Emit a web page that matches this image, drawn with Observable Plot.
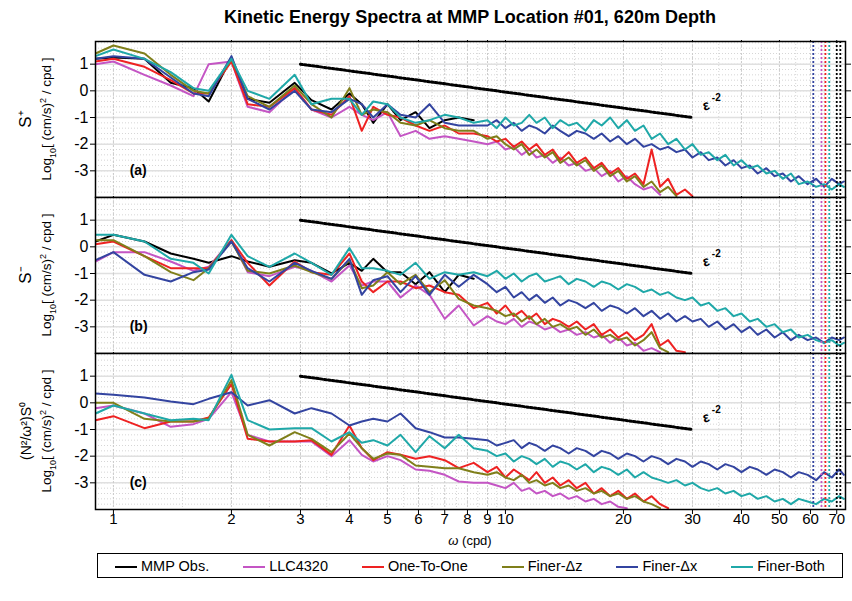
<!DOCTYPE html>
<html><head><meta charset="utf-8">
<script src="https://cdn.jsdelivr.net/npm/d3@7"></script>
<script src="https://cdn.jsdelivr.net/npm/@observablehq/plot@0.6"></script>
<style>
body{margin:0;background:#fff;font-family:Arial,"Liberation Sans",sans-serif}
#wrap{position:relative;width:852px;height:601px}
#title{position:absolute;top:7px;left:95px;width:750px;text-align:center;font-weight:bold;font-size:18px}
.pan{position:absolute;left:0}
#legend{position:absolute;left:97px;top:553px;width:746px;height:25px;border:1px solid #000;display:flex;align-items:center;justify-content:space-around;font-size:14.5px;box-sizing:border-box}
#legend span.k{display:inline-block;width:22px;height:0;border-top:2px solid;vertical-align:middle;margin-right:4px}
</style></head><body>
<div id="wrap"><div id="title">Kinetic Energy Spectra at MMP Location #01, 620m Depth</div><div id="legend"></div></div>
<script>
const series = ["MMP Obs.","LLC4320","One-To-One","Finer-Δz","Finer-Δx","Finer-Both"];
const colors = ["#000000","#c455c4","#ee2222","#7f7f1a","#3344a0","#1fa8a8"];
const wLow = [0.9,1,1.2,1.4,1.6,1.75,2,2.2,2.5,2.9,3.2,3.6,4,4.3,4.6,5,5.4,5.9,6.4,7,7.6,8.3];
const wHigh = [9,9.5,10,10.5,11,11.5,12,12.6,13.2,13.8,14.5,15.2,16,16.8,17.6,18.5,19.4,20.4,21.4,22.5,23.6,24.8,26,27.3,28.7,30,31.5,33,34.7,36.4,38.2,40,42,44,46.3,48.6,51,53.5,56,59,62,65,68,71,73];
// panel a
const aBlackLow=[1.2,1.25,1.2,0.3,0.1,-0.4,1.25,-0.3,-0.45,0.3,-0.35,-0.7,-0.1,-0.5,-1.2,-0.5,-1.1,-0.8,-1.4,-1.1,-1.0,-1.1];
const aMagLow=[1.0,1.1,0.6,0.2,-0.2,1.0,1.1,-0.6,-0.8,0.1,-0.7,-1.0,-0.6,-0.9,-1.1,-0.8,-1.7,-1.5,-1.8,-1.7,-1.8,-1.9];
const aRedLow=[1.1,1.2,0.9,0.4,-0.1,-0.1,1.1,-0.5,-0.6,0.1,-0.7,-0.9,-0.2,-1.5,-0.6,-0.9,-1.0,-1.3,-1.5,-1.3,-1.6,-1.6];
const aOliveLow=[1.4,1.7,1.4,0.6,0.0,-0.1,1.2,-0.2,-0.6,0.2,-0.5,-1.0,0.1,-0.9,-0.7,-0.8,-1.2,-1.3,-1.1,-1.4,-1.5,-1.5];
const aBlueLow=[1.2,1.3,1.2,0.5,-0.1,-0.2,1.3,-0.3,-0.7,0.0,-0.7,-0.8,-0.3,-0.5,-1.0,-0.5,-0.9,-1.0,-0.5,-1.2,-1.3,-1.3];
const aCyanLow=[1.3,1.55,1.2,0.7,0.1,0.0,1.2,0.0,-0.3,0.6,-0.5,-0.3,-0.3,-0.9,-0.4,-0.5,-1.0,-1.2,-1.1,-0.9,-1.0,-1.2];
const aMagHigh=[-2.0,-1.9,-2.2,-2.1,-2.4,-2.2,-2.5,-2.4,-2.7,-2.5,-2.8,-2.7,-3.0,-2.9,-3.2,-3.0,-3.4,-3.2,-3.5,-3.7,-3.6,-3.9];
const aRedHigh=[-1.7,-1.9,-1.8,-2.1,-1.9,-2.2,-2.0,-2.4,-2.2,-2.6,-2.3,-2.7,-2.5,-2.9,-2.7,-3.1,-2.9,-3.3,-3.1,-3.5,-2.2,-3.6,-3.3,-3.9,-3.7,-3.95];
const aOliveHigh=[-1.8,-1.7,-2.0,-2.2,-2.0,-2.4,-2.2,-2.5,-2.3,-2.7,-2.5,-2.8,-2.6,-3.0,-2.8,-3.2,-3.0,-3.4,-3.2,-3.6,-3.4,-3.8,-3.6,-3.95];
const aBlueHigh=[-1.3,-1.1,-1.4,-1.2,-1.5,-1.3,-1.4,-1.6,-1.3,-1.5,-1.7,-1.5,-1.6,-1.8,-1.6,-1.9,-1.7,-2.0,-1.8,-2.1,-2.0,-2.2,-2.1,-2.3,-2.2,-2.5,-2.3,-2.6,-2.5,-2.8,-2.6,-2.9,-2.8,-3.1,-2.9,-3.2,-3.1,-3.4,-3.2,-3.5,-3.3,-3.6,-3.3,-3.5,-3.4];
const aCyanHigh=[-1.1,-1.4,-1.0,-1.3,-1.2,-0.9,-1.2,-1.0,-1.4,-1.1,-1.3,-1.2,-1.5,-1.1,-1.3,-1.0,-1.4,-1.1,-1.5,-1.3,-1.8,-1.6,-2.0,-1.8,-2.2,-2.0,-2.4,-2.3,-2.6,-2.4,-2.8,-2.6,-2.9,-2.8,-3.1,-3.0,-3.3,-3.1,-3.5,-3.4,-3.6,-3.5,-3.7,-3.5,-3.6];
// panel b
const bBlackLow=[0.2,0.45,0.2,-0.25,-0.45,-0.6,-0.35,-0.55,-0.75,-0.5,-0.6,-1.0,-0.6,-0.9,-0.45,-0.95,-0.95,-1.4,-0.95,-1.7,-1.05,-1.2];
const bMagLow=[-0.55,-0.2,-0.2,-0.55,-0.9,-0.75,0.25,-0.95,-1.1,-0.75,-0.9,-1.3,-0.7,-1.45,-1.3,-1.3,-1.9,-1.45,-1.8,-2.7,-2.2,-2.95];
const bRedLow=[0.1,0.2,-0.35,-0.8,-0.8,-0.8,0.25,-0.6,-1.45,-0.55,-0.95,-1.05,-0.25,-1.3,-1.7,-1.3,-1.3,-1.55,-1.45,-1.7,-1.8,-2.3];
const bOliveLow=[0.25,0.25,-0.35,-0.95,-1.25,-0.8,0.2,-0.9,-1.0,-0.7,-0.95,-1.2,-0.5,-1.55,-1.45,-0.95,-1.4,-1.05,-1.7,-1.25,-1.95,-2.2];
const bBlueLow=[-0.5,-0.2,-1.05,-1.3,-0.95,-0.85,0.2,-0.8,-1.3,-0.6,-0.9,-1.2,-0.45,-1.8,-1.25,-1.1,-1.7,-1.1,-1.8,-1.05,-1.5,-1.05];
const bCyanLow=[0.45,0.45,0.2,-0.45,-0.6,-1.0,0.45,-0.35,-0.75,-0.25,-0.6,-1.05,-0.05,-0.8,-0.8,-0.9,-1.05,-0.6,-1.2,-0.95,-1.05,-0.95];
const bMagHigh=[-2.6,-2.8,-2.9,-2.7,-3.0,-2.8,-2.9,-3.1,-3.0,-3.2,-3.1,-3.3,-3.2,-3.4,-3.3,-3.6,-3.4,-3.7,-3.6,-3.9,-3.8,-3.95];
const bRedHigh=[-2.1,-2.5,-2.2,-2.6,-2.4,-2.7,-2.5,-2.9,-2.7,-2.8,-3.0,-2.8,-3.1,-2.9,-3.3,-3.1,-3.4,-3.2,-3.5,-3.3,-2.9,-3.7,-3.5,-3.9,-3.95];
const bOliveHigh=[-2.3,-2.4,-2.6,-2.5,-2.8,-2.6,-2.9,-2.7,-3.0,-2.9,-3.1,-3.0,-3.3,-3.1,-3.4,-3.3,-3.5,-3.4,-3.7,-3.5,-3.2,-3.8,-3.95];
const bBlueHigh=[-1.4,-1.7,-1.5,-1.9,-1.7,-2.0,-1.8,-2.1,-1.9,-2.2,-2.0,-2.1,-2.3,-2.1,-2.4,-2.2,-2.3,-2.5,-2.3,-2.6,-2.4,-2.7,-2.5,-2.8,-2.6,-2.8,-2.7,-3.0,-2.8,-3.1,-2.9,-3.2,-3.0,-3.3,-3.1,-3.4,-3.2,-3.5,-3.3,-3.5,-3.4,-3.6,-3.4,-3.5,-3.4];
const bCyanHigh=[-1.1,-0.9,-1.2,-1.0,-1.3,-1.1,-1.0,-1.3,-1.2,-1.1,-1.4,-1.2,-1.3,-1.5,-1.3,-1.4,-1.6,-1.4,-1.5,-1.7,-1.6,-1.8,-1.7,-1.9,-2.0,-1.9,-2.2,-2.1,-2.4,-2.3,-2.6,-2.5,-2.8,-2.7,-3.0,-2.9,-3.2,-3.1,-3.4,-3.3,-3.5,-3.6,-3.5,-3.7,-3.6];
// panel c
const cMagLow=[-0.2,-0.1,-0.4,-0.9,-0.8,-0.6,0.4,-1.2,-1.45,-1.45,-1.45,-2.0,-1.4,-1.95,-2.2,-2.0,-2.15,-2.5,-2.55,-2.7,-2.95,-3.0];
const cRedLow=[-0.65,-0.5,-0.95,-0.7,-0.7,-0.55,0.7,-1.35,-1.45,-1.45,-1.4,-1.95,-0.85,-1.7,-2.15,-1.85,-1.95,-2.1,-2.0,-2.15,-2.45,-2.25];
const cOliveLow=[0.0,0.0,-0.6,-0.7,-0.7,-0.6,0.85,-1.2,-1.6,-1.1,-1.35,-1.85,-1.15,-1.7,-2.1,-1.9,-1.95,-2.35,-2.4,-2.45,-2.45,-2.6];
const cBlueLow=[0.35,0.3,0.2,0.05,-0.05,0.15,0.4,-0.1,0.1,-0.4,-0.2,-0.4,-0.85,-0.7,-0.6,-0.7,-0.4,-0.95,-1.1,-1.3,-1.3,-1.35];
const cCyanLow=[-0.4,-0.1,-0.4,-0.65,-0.6,-0.65,1.05,-0.65,-1.0,-0.95,-0.95,-1.45,-1.1,-1.5,-1.4,-1.6,-1.2,-1.85,-1.25,-1.7,-1.2,-1.7];
const cMagHigh=[-3.0,-3.1,-3.2,-3.0,-3.3,-3.2,-3.4,-3.3,-3.5,-3.4,-3.6,-3.5,-3.7,-3.6,-3.8,-3.7,-3.9,-3.95];
const cRedHigh=[-2.6,-2.4,-2.8,-2.5,-2.7,-2.9,-2.6,-3.0,-2.8,-3.1,-2.9,-3.2,-3.0,-3.4,-3.2,-3.5,-3.3,-3.6,-3.4,-3.7,-3.5,-3.8,-3.95];
const cOliveHigh=[-2.7,-2.6,-2.8,-2.9,-2.7,-3.0,-2.9,-3.1,-3.0,-3.2,-3.1,-3.3,-3.2,-3.4,-3.3,-3.5,-3.4,-3.6,-3.5,-3.7,-3.8,-3.95];
const cBlueHigh=[-1.4,-1.6,-1.5,-1.4,-1.7,-1.5,-1.6,-1.8,-1.6,-1.7,-1.9,-1.7,-1.8,-2.0,-1.8,-1.9,-2.1,-1.9,-2.0,-2.2,-2.0,-2.1,-2.3,-2.1,-2.2,-2.4,-2.2,-2.3,-2.5,-2.3,-2.4,-2.6,-2.4,-2.5,-2.7,-2.5,-2.6,-2.8,-2.6,-2.7,-2.9,-2.6,-2.8,-2.5,-2.7];
const cCyanHigh=[-1.8,-2.0,-1.9,-2.2,-2.0,-2.1,-2.3,-2.1,-2.4,-2.2,-2.3,-2.5,-2.3,-2.6,-2.4,-2.5,-2.7,-2.5,-2.8,-2.6,-2.8,-2.9,-3.0,-2.9,-3.1,-3.0,-3.2,-3.3,-3.2,-3.4,-3.3,-3.5,-3.4,-3.6,-3.5,-3.7,-3.6,-3.8,-3.6,-3.7,-3.8,-3.6,-3.7,-3.5,-3.6];
const xTicks=[1,2,3,4,5,6,7,8,9,10,20,30,40,50,60,70];
const yTicks=[1,0,-1,-2,-3];
const nyqW=[61,64,65.5,67,70,71.5];
const nyqColor=["#3344a0","#c455c4","#ee2222","#1fa8a8","#000000","#000000"];
const epsW=[3,30], epsV=[1,-1];

function build(lows, highs){
  const rows=[];
  series.forEach((s,i)=>{
    const lo=lows[i]||[], hi=highs[i]||[];
    wLow.forEach((w,j)=>rows.push({s,w,v:lo[j]??null}));
    wHigh.forEach((w,j)=>rows.push({s,w,v:hi[j]??null}));
  });
  return rows;
}
const panels=[
 {tag:"(a)",lab:"S⁺",rows:build([aBlackLow,aMagLow,aRedLow,aOliveLow,aBlueLow,aCyanLow],[[],aMagHigh,aRedHigh,aOliveHigh,aBlueHigh,aCyanHigh]),top:40},
 {tag:"(b)",lab:"S⁻",rows:build([bBlackLow,bMagLow,bRedLow,bOliveLow,bBlueLow,bCyanLow],[[],bMagHigh,bRedHigh,bOliveHigh,bBlueHigh,bCyanHigh]),top:196},
 {tag:"(c)",lab:"(N²/ω²)S⁰",rows:build([[],cMagLow,cRedLow,cOliveLow,cBlueLow,cCyanLow],[[],cMagHigh,cRedHigh,cOliveHigh,cBlueHigh,cCyanHigh]),top:352}
];
const minorY=d3.range(-4,1.85,0.2);
const minorX=[0.9,...d3.range(1,10,0.5),...d3.range(10,75,5)];
const wrap=document.getElementById("wrap");
panels.forEach((p,k)=>{
  const last=k===2;
  const eps=epsW.map((w,i)=>({w,v:epsV[i]}));
  const svg=Plot.plot({
    width:852,height:last?158+40:158,marginLeft:95,marginRight:7,marginTop:1,marginBottom:last?41:1,
    style:{fontFamily:"Arial, 'Liberation Sans', sans-serif",fontSize:"15px",background:"transparent"},
    x:{type:"log",domain:[0.9,73.7]},
    y:{domain:[-4,1.85]},
    color:{domain:series,range:colors},
    marks:[
      Plot.ruleY(minorY,{stroke:"#ccc",strokeDasharray:"1,2",strokeWidth:0.8}),
      Plot.ruleX(minorX,{stroke:"#ccc",strokeDasharray:"1,2",strokeWidth:0.8}),
      Plot.ruleY(yTicks,{stroke:"#e0e0e0",strokeWidth:1.5}),
      Plot.ruleX(xTicks,{stroke:"#ccc",strokeDasharray:"2,2",strokeWidth:1}),
      Plot.line(p.rows,{x:"w",y:"v",z:"s",stroke:"s",strokeWidth:2,clip:true}),
      Plot.ruleX(nyqW,{x:d=>d,stroke:(d,i)=>nyqColor[i],strokeDasharray:"2,2",strokeWidth:1.8}),
      Plot.line(eps,{x:"w",y:"v",stroke:"#000",strokeWidth:3,strokeDasharray:"2,2"}),
      Plot.text([0],{x:32.5,y:-0.55,text:()=>"ε",rotate:-15,fontSize:14,fontWeight:"bold"}),
      Plot.text([0],{x:34.5,y:-0.25,text:()=>"-2",fontSize:10,fontWeight:"bold"}),
      Plot.text([0],{x:1.1,y:-3,text:()=>p.tag,fontSize:14,fontWeight:"bold",textAnchor:"start"}),
      Plot.text(yTicks,{y:d=>d,frameAnchor:"left",text:d=>String(d),textAnchor:"end",dx:-7,fontSize:16}),
      Plot.axisY({anchor:"right",ticks:yTicks,tickSize:5,tickFormat:()=>"",label:null}),
      Plot.axisY({anchor:"left",ticks:yTicks,tickSize:5,tickFormat:()=>"",label:null}),
      Plot.axisX({anchor:"top",ticks:xTicks,tickSize:5,tickFormat:()=>"",label:null}),
      Plot.axisX({anchor:"bottom",ticks:xTicks,tickSize:5,tickFormat:()=>"",label:null}),
      last?Plot.text(xTicks,{x:d=>d,frameAnchor:"bottom",text:d=>String(d),dy:14,fontSize:15}):null,
      Plot.frame({stroke:"#000",strokeWidth:1.5})
    ]
  });
  svg.classList.add("pan");
  svg.style.top=p.top+"px";
  const s=d3.select(svg);
  const cy=1+78;
  s.append("text").attr("transform",`translate(31,${cy}) rotate(-90)`).attr("text-anchor","middle")
    .attr("font-size",k===2?14:17).text(p.lab);
  const t=s.append("text").attr("transform",`translate(51,${cy}) rotate(-90)`).attr("text-anchor","middle").attr("font-size",13.5);
  t.append("tspan").text("Log");
  t.append("tspan").attr("baseline-shift","sub").attr("font-size",9).text("10");
  t.append("tspan").text("[ (cm/s)");
  t.append("tspan").attr("baseline-shift","super").attr("font-size",9).text("2");
  t.append("tspan").text(" / cpd ]");
  if(last){
    const xl=s.append("text").attr("x",470).attr("y",193).attr("text-anchor","middle").attr("font-size",13);
    xl.append("tspan").attr("font-style","italic").text("ω");
    xl.append("tspan").text(" (cpd)");
  }
  wrap.appendChild(svg);
});
const leg=document.getElementById("legend");
series.forEach((s,i)=>{const e=document.createElement("div");e.innerHTML=`<span class="k" style="border-color:${colors[i]}"></span>${s}`;leg.appendChild(e);});
</script></body></html>
